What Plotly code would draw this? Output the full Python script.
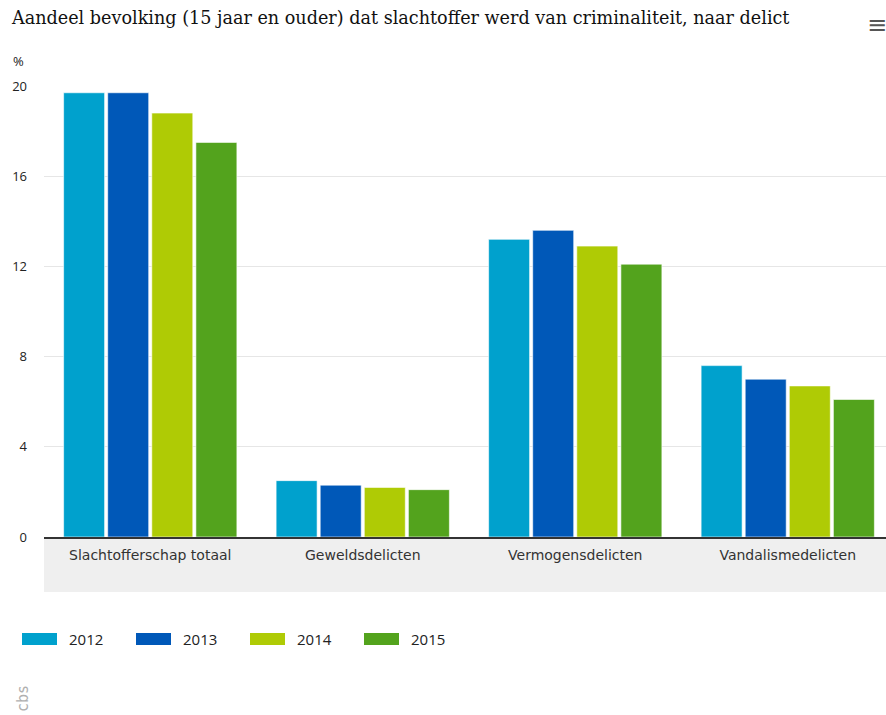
import plotly.graph_objects as go

categories = ["Slachtofferschap totaal", "Geweldsdelicten", "Vermogensdelicten", "Vandalismedelicten"]
years = ["2012", "2013", "2014", "2015"]
values_2012 = [19.7, 2.5, 13.2, 7.6]
values_2013 = [19.7, 2.3, 13.6, 7.0]
values_2014 = [18.8, 2.2, 12.9, 6.7]
values_2015 = [17.5, 2.1, 12.1, 6.1]
series = [values_2012, values_2013, values_2014, values_2015]
colors = ["#00A1CD", "#0058B8", "#AFCB05", "#53A31D"]
y_ticks = [0, 4, 8, 12, 16, 20]

W, H = 894, 715
ml, mr, mt, mb = 44, 0, 86, 178
pw, ph = W - ml - mr, H - mt - mb

def px_x(x):
    return (x - ml) / pw

def px_y(y):
    return (H - mb - y) / ph

fig = go.Figure()
for yr, vals, col in zip(years, series, colors):
    fig.add_trace(go.Bar(
        x=categories, y=vals, name=yr,
        marker=dict(color=col, line=dict(color="rgba(255,255,255,0.6)", width=1)),
        showlegend=False,
    ))

shapes = [
    dict(type="rect", xref="paper", yref="paper", x0=0, x1=1, y0=px_y(592), y1=0,
         fillcolor="#EFEFEF", line=dict(width=0), layer="below"),
]
annotations = [
    dict(text="Aandeel bevolking (15 jaar en ouder) dat slachtoffer werd van criminaliteit, naar delict",
         xref="paper", yref="paper", x=px_x(9), y=px_y(18), xanchor="left", yanchor="middle",
         showarrow=False, font=dict(family="DejaVu Serif", size=17.6, color="#111111")),
    dict(text="%", xref="paper", yref="paper", x=px_x(11), y=px_y(61), xanchor="left", yanchor="middle",
         showarrow=False, font=dict(family="Open Sans", size=13, color="#222222")),
    dict(text="≡", xref="paper", yref="paper", x=px_x(877), y=px_y(25), xanchor="center", yanchor="middle",
         showarrow=False, font=dict(family="DejaVu Sans", size=24, color="#555555")),
    dict(text="cbs", xref="paper", yref="paper", x=px_x(23), y=px_y(699), xanchor="center", yanchor="middle",
         textangle=-90, showarrow=False, font=dict(family="DejaVu Sans Mono", size=15, color="#B0B0B0")),
]
for i, (yr, col) in enumerate(zip(years, colors)):
    x0 = 22 + i * 114
    shapes.append(dict(type="rect", xref="paper", yref="paper",
                       x0=px_x(x0), x1=px_x(x0 + 35), y0=px_y(645), y1=px_y(633),
                       fillcolor=col, line=dict(width=0)))
    annotations.append(dict(text=yr, xref="paper", yref="paper", x=px_x(x0 + 45), y=px_y(639),
                            xanchor="left", yanchor="middle", showarrow=False,
                            font=dict(family="Open Sans", size=15, color="#222222")))

fig.update_layout(
    width=W, height=H,
    margin=dict(l=ml, r=mr, t=mt, b=mb, pad=0),
    paper_bgcolor="white", plot_bgcolor="white",
    barmode="group", bargap=0.17, bargroupgap=0.07,
    shapes=shapes, annotations=annotations,
    xaxis=dict(showgrid=False, tickfont=dict(family="DejaVu Sans", size=14, color="#333333"),
               ticks="", showline=True, linecolor="#333333", linewidth=2, ticklabelstandoff=4),
    yaxis=dict(range=[0, 20], tickvals=y_ticks, showgrid=True, gridcolor="#E6E6E6", gridwidth=1,
               zeroline=False, tickfont=dict(family="Open Sans", size=13, color="#222222"),
               ticklabelstandoff=16, fixedrange=True),
    font=dict(family="Open Sans"),
)
fig.write_html("out.html", config={"displayModeBar": False},
               post_script="document.body.style.margin='0';document.body.style.overflow='hidden';")
